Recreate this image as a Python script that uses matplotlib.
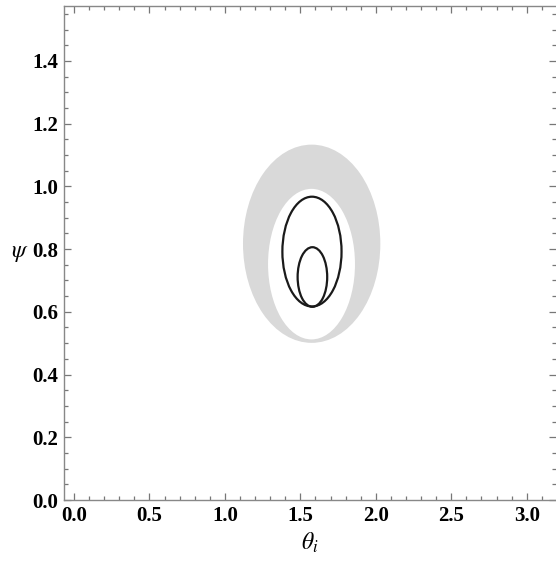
import numpy as np
import matplotlib
matplotlib.use('Agg')
import matplotlib.pyplot as plt
from matplotlib.patches import Ellipse
from matplotlib.ticker import MultipleLocator

plt.rcParams['font.family'] = ['Liberation Serif', 'DejaVu Serif']
plt.rcParams['mathtext.fontset'] = 'stix'

# shaded band (outer / inner boundary): centre x, centre y, half width, half height
band_cx = [1.575, 1.574]
band_cy = [0.817, 0.752]
band_rx = [0.455, 0.288]
band_ry = [0.316, 0.240]

# black contour curves
curve_cx = [1.577, 1.580]
curve_cy = [0.792, 0.711]
curve_rx = [0.196, 0.098]
curve_ry = [0.175, 0.095]

x_ticks = [0.0, 0.5, 1.0, 1.5, 2.0, 2.5, 3.0]
y_ticks = [0.0, 0.2, 0.4, 0.6, 0.8, 1.0, 1.2, 1.4]

fig = plt.figure(figsize=(5.56, 5.69), dpi=100)
ax = fig.add_axes([64 / 556, 69 / 569, 492 / 556, 494 / 569])

fills = ['#d9d9d9', 'white']
for i in range(2):
    ax.add_patch(Ellipse((band_cx[i], band_cy[i]), 2 * band_rx[i], 2 * band_ry[i],
                         facecolor=fills[i], edgecolor='none', zorder=1))
for i in range(2):
    ax.add_patch(Ellipse((curve_cx[i], curve_cy[i]), 2 * curve_rx[i], 2 * curve_ry[i],
                         facecolor='none', edgecolor='#1a1a1a', lw=1.6, zorder=3))

ax.set_xlim(-0.066, 3.194)
ax.set_ylim(0, 1.575)
ax.set_xticks(x_ticks)
ax.set_yticks(y_ticks)
ax.set_xticklabels(['%.1f' % v for v in x_ticks])
ax.set_yticklabels(['%.1f' % v for v in y_ticks])
ax.xaxis.set_minor_locator(MultipleLocator(0.1))
ax.yaxis.set_minor_locator(MultipleLocator(0.05))

for s in ['left', 'bottom', 'top']:
    ax.spines[s].set_color('#888888')
    ax.spines[s].set_linewidth(1.0)
ax.spines['right'].set_visible(False)

ax.tick_params(which='both', direction='in', top=True, right=True,
               color='#777777', width=0.9)
ax.tick_params(which='major', length=5, pad=4)
ax.tick_params(which='minor', length=3)
for lab in ax.get_xticklabels() + ax.get_yticklabels():
    lab.set_fontweight('bold')
    lab.set_fontsize(15)

ax.set_xlabel(r'$\theta_i$', fontsize=17, labelpad=4)
ax.set_ylabel(r'$\psi$', fontsize=17, rotation=0, labelpad=9, va='center')

plt.savefig('out.png', dpi=100)
